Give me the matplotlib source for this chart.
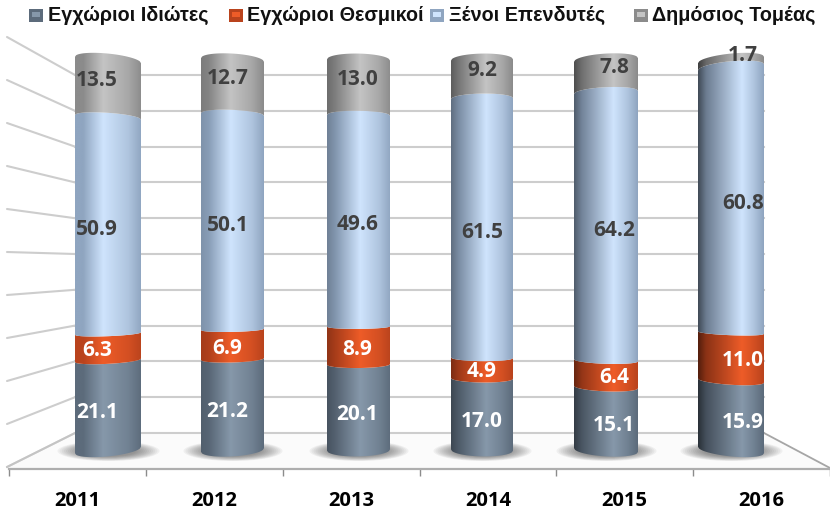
# -*- coding: utf-8 -*-
import numpy as np
import matplotlib
matplotlib.use('Agg')
import matplotlib.pyplot as plt
from matplotlib.colors import LinearSegmentedColormap, to_rgb
from matplotlib.patches import Ellipse, PathPatch, Rectangle
from matplotlib.path import Path

plt.rcParams['font.family'] = ['Open Sans', 'Liberation Sans', 'DejaVu Sans']

years = ['2011', '2012', '2013', '2014', '2015', '2016']
series_names = ['Εγχώριοι Ιδιώτες', 'Εγχώριοι Θεσμικοί', 'Ξένοι Επενδυτές', 'Δημόσιος Τομέας']
domestic_private = [21.1, 21.2, 20.1, 17.0, 15.1, 15.9]
domestic_inst = [6.3, 6.9, 8.9, 4.9, 6.4, 11.0]
foreign = [50.9, 50.1, 49.6, 61.5, 64.2, 60.8]
public = [13.5, 12.7, 13.0, 9.2, 7.8, 1.7]

W, H = 830, 515
# pixel geometry of the "3d" box
bar_left = [75, 201, 327, 451, 574, 698]
bar_right = [141, 264, 390, 513, 638, 764]
label_dx = [-11, -5, -1, 0, 8, 12]
label_dy = [-1.8, -1, -1, 2.2]
y0_px, y100_px = 450, 60

# light colour, dark colour and label colour for each series
light = ['#8698aa', '#ee5c28', '#cfe4fd', '#c4c4c4']
dark = ['#5c6b7b', '#b9431d', '#8fa5c0', '#8b8b8b']
txt_col = ['white', 'white', '#404040', '#404040']

fig = plt.figure(figsize=(W / 100, H / 100), dpi=100, facecolor='white')

# background axes in pixels, walls and floor
bg = fig.add_axes([0, 0, 1, 1])
bg.set_xlim(0, W)
bg.set_ylim(H, 0)
bg.axis('off')

front_y = np.linspace(467, 37, 11)
back_y = np.linspace(433, 75, 11)
grid_col = '#cdcdcd'
for fy, by in zip(front_y, back_y):
    bg.plot([7, 75], [fy, by], color=grid_col, lw=1.5, solid_capstyle='round')
    bg.plot([75, 764], [by, by], color=grid_col, lw=1.5)
bg.fill([7, 75, 764, 830], [468, 433, 433, 468], color='#fbfbfb', zorder=1)
bg.plot([764, 830], [433, 468], color='#a6a6a6', lw=1.3, zorder=2)
bg.plot([7, 75], [467, 433], color='#c4c4c4', lw=1.3, zorder=2)

# shadows under the bars
for l, r in zip(bar_left, bar_right):
    cx = (l + r) / 2
    for k in np.linspace(1, 0.55, 12):
        bg.add_patch(Ellipse((cx + 0.5, 451), (r - l + 36) * k, 20 * k,
                             color='#3c3c3c', alpha=0.06, lw=0, zorder=3))

# front axis with the year labels
ax = fig.add_axes([9 / W, 1 - 469 / H, 821 / W, 0.001])
ax.patch.set_alpha(0)
ax.set_xlim(-0.5, 5.5)
ax.set_ylim(0, 1)
for s in ['left', 'right', 'top']:
    ax.spines[s].set_visible(False)
ax.spines['bottom'].set_color('#aeaeae')
ax.spines['bottom'].set_linewidth(1.6)
ax.set_yticks([])
ax.set_xticks(np.arange(-0.5, 5.6, 1))
ax.set_xticklabels([])
ax.tick_params(axis='x', which='major', length=5, width=1, color='#8c8c8c')
ax.set_xticks(range(6), minor=True)
ax.set_xticklabels(years, minor=True, fontsize=14.5, fontweight='bold', color='black')
ax.tick_params(axis='x', which='minor', length=0, pad=16)

# bars axes: y is the share of each year, x stays in pixels
# the axes reach past 0 and 100 so the curved ends are not cut off
px_per_unit = (y0_px - y100_px) / 100.0
margin = 5
bars = fig.add_axes([0, 1 - (y0_px + margin * px_per_unit) / H, 1,
                     (y0_px - y100_px + 2 * margin * px_per_unit) / H])
bars.patch.set_alpha(0)
bars.axis('off')


def edge(value, xs, xc, half):
    # curve of a slice through the cylinder, returned in data units
    y_px = y0_px - value * px_per_unit
    u = (xs - xc) / half
    slope = 1.6e-6 * (xc - 420) * (y_px - 255)
    sag = 0.033 * (y_px - 255)
    off = slope * (xs - xc) + sag * np.sqrt(np.clip(1 - u ** 2, 0, 1))
    return value - off / px_per_unit


def bar_cmap(i, s):
    # the shading gets harder to the right of the chart
    t = i / 5.0
    lt = np.array(to_rgb(light[s]))
    dk = np.array(to_rgb(dark[s]))
    left = dk * (1.0 - 0.55 * t)
    return LinearSegmentedColormap.from_list('c', [
        (0, left),
        (0.12, dk * (1.0 - 0.25 * t)),
        (0.42 + 0.25 * t, lt),
        (0.8 + 0.05 * t, lt * 0.5 + dk * 0.5),
        (1, dk),
    ])


table = np.array([domestic_private, domestic_inst, foreign, public])
shares = table / table.sum(axis=0) * 100
for i in range(6):
    l, r = bar_left[i], bar_right[i]
    xc, half = (l + r) / 2, (r - l) / 2
    xs = np.linspace(l, r, 60)
    bottom = 0.0
    for s in range(4):
        top = bottom + shares[s, i]
        lower = edge(bottom, xs, xc, half)
        upper = edge(top, xs, xc, half)
        verts = np.vstack([np.column_stack([xs, lower]),
                           np.column_stack([xs[::-1], upper[::-1]]),
                           [[xs[0], lower[0]]]])
        codes = [Path.MOVETO] + [Path.LINETO] * (len(verts) - 2) + [Path.CLOSEPOLY]
        im = bars.imshow(np.linspace(0, 1, 128).reshape(1, -1), cmap=bar_cmap(i, s),
                         extent=(l, r, lower.min() - 1, upper.max() + 1),
                         aspect='auto', interpolation='bilinear', zorder=5)
        im.set_clip_path(PathPatch(Path(verts, codes), transform=bars.transData))
        bars.text(xc + label_dx[i], bottom + shares[s, i] / 2 + label_dy[s], '%.1f' % table[s, i],
                  color=txt_col[s], fontsize=15, fontweight='bold',
                  ha='center', va='center', zorder=6)
        bottom = top
bars.set_xlim(0, W)
bars.set_ylim(-margin, 100 + margin)

# legend, drawn by hand to sit the way the original does
legend_sq = [29, 229, 430, 634]
legend_tx = [48, 247, 449, 652]
for s in range(4):
    x = legend_sq[s]
    bg.add_patch(Rectangle((x, 9), 14, 13, color=dark[s], lw=0, zorder=4))
    bg.add_patch(Rectangle((x + 3, 12), 8, 5, color=light[s], lw=0, zorder=4))
    bg.text(legend_tx[s], 15.5, series_names[s], family='Liberation Sans', fontsize=14.2,
            fontweight='bold', color='#111111', ha='left', va='center', zorder=4)

fig.savefig('out.png', dpi=100, facecolor='white')
